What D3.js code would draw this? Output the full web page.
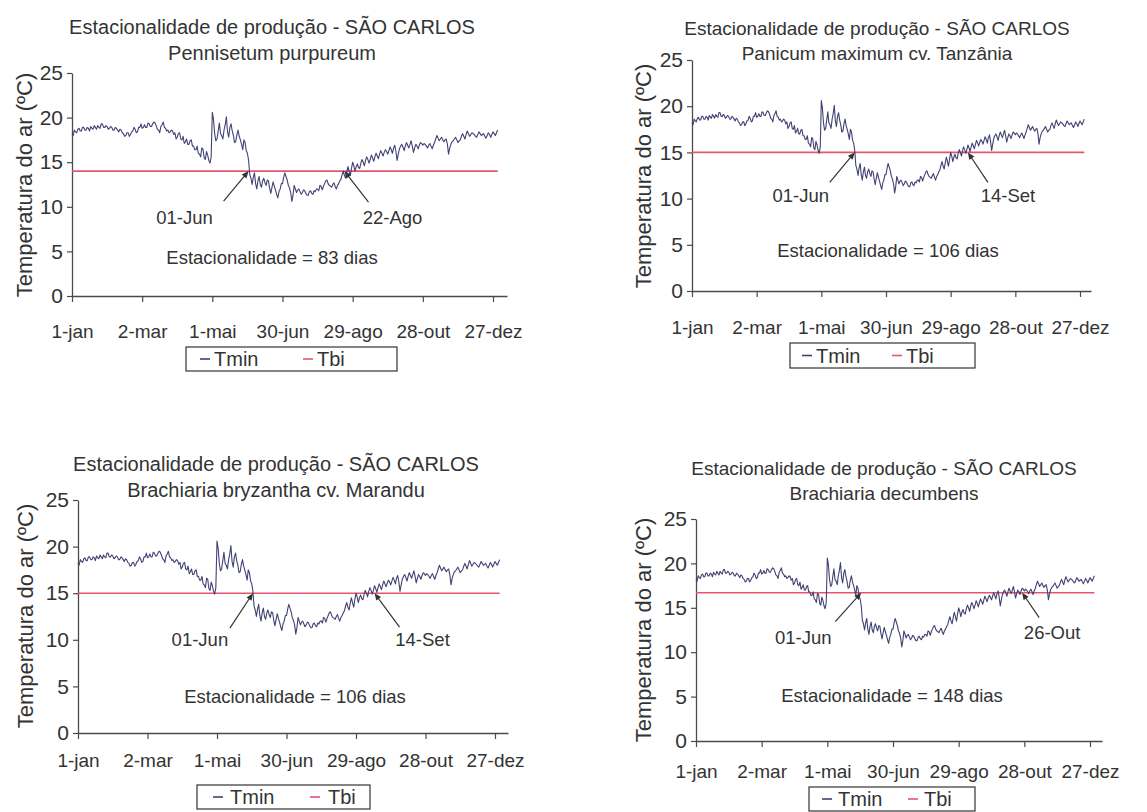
<!DOCTYPE html>
<html lang="pt-BR">
<head>
<meta charset="utf-8">
<script src="https://cdn.jsdelivr.net/npm/d3@7"></script>
<style>
  html, body { margin: 0; padding: 0; background: #ffffff; }
  svg { display: block; }
  text { font-family: "Liberation Sans", Arial, sans-serif; fill: #333333; }
</style>
</head>
<body>
<svg id="fig" width="1147" height="812"></svg>
<script>
// Temperatura mínima diária do ar (ºC) em São Carlos, dias 1 a 365
const tmin = [
  18.2, 18.0, 18.6, 18.4, 18.3, 18.7, 18.8, 18.5, 18.5, 18.9,
  18.9, 18.6, 18.6, 18.9, 18.8, 18.5, 19.0, 18.8, 18.7, 19.1,
  18.9, 18.7, 19.1, 18.9, 18.8, 19.3, 19.3, 18.9, 18.9, 19.1,
  19.0, 18.7, 18.8, 19.0, 18.9, 18.6, 18.6, 18.9, 18.8, 18.6,
  18.4, 18.7, 18.6, 18.3, 18.2, 17.9, 18.0, 18.3, 18.3, 17.9,
  18.1, 18.4, 18.5, 18.9, 18.7, 18.3, 18.4, 18.9, 18.9, 19.3,
  18.8, 18.9, 19.2, 18.9, 18.9, 19.4, 19.3, 19.0, 19.0, 19.3,
  19.5, 19.4, 19.1, 18.7, 18.6, 18.3, 19.0, 19.2, 19.5, 18.9,
  18.8, 18.5, 18.6, 18.3, 18.4, 18.6, 18.5, 18.1, 18.3, 17.6,
  17.8, 18.2, 18.3, 17.6, 17.5, 17.9, 17.1, 17.3, 17.6, 17.0,
  17.0, 17.4, 17.5, 16.8, 16.8, 16.4, 16.4, 16.8, 16.0, 15.9,
  15.6, 16.6, 16.5, 15.5, 15.3, 16.2, 15.8, 15.2, 14.9, 15.6,
  20.6, 19.8, 18.2, 17.4, 17.6, 18.5, 19.4, 18.2, 18.0, 17.6,
  18.6, 19.2, 20.1, 18.4, 17.8, 18.9, 19.3, 18.5, 18.0, 17.2,
  17.3, 18.1, 18.6, 17.9, 17.5, 17.0, 16.4, 17.5, 17.2, 16.3,
  16.0, 15.2, 13.6, 13.2, 12.5, 13.3, 13.8, 12.6, 12.0, 12.9,
  13.4, 12.5, 12.2, 12.9, 13.2, 12.7, 12.4, 13.0, 12.9, 12.1,
  11.5, 12.2, 12.8, 12.3, 11.9, 11.4, 11.0, 11.7, 12.0, 12.6,
  12.6, 13.3, 13.8, 13.4, 13.0, 12.4, 12.1, 11.6, 10.6, 11.3,
  12.4, 12.0, 11.6, 11.9, 12.0, 11.7, 11.4, 11.6, 11.9, 11.8,
  11.5, 11.3, 11.3, 11.7, 11.8, 11.5, 11.4, 11.8, 11.7, 12.0,
  12.0, 11.8, 12.4, 12.3, 11.9, 12.3, 12.6, 12.9, 13.0, 12.6,
  12.4, 12.3, 12.2, 12.5, 12.7, 12.3, 12.0, 12.4, 12.6, 12.9,
  13.1, 13.6, 14.0, 13.5, 13.2, 13.9, 14.5, 14.0, 13.5, 14.3,
  15.0, 14.6, 14.0, 14.5, 14.8, 14.4, 14.3, 14.9, 15.3, 15.0,
  14.6, 15.2, 15.6, 15.3, 14.9, 15.3, 15.8, 15.5, 15.1, 15.6,
  16.0, 15.7, 15.4, 15.9, 16.3, 16.0, 15.7, 16.1, 16.4, 16.2,
  15.9, 16.3, 16.7, 16.4, 16.0, 16.6, 16.9, 16.2, 15.2, 15.9,
  16.5, 16.8, 17.0, 16.7, 16.3, 16.8, 17.2, 16.9, 16.6, 17.0,
  17.4, 16.8, 16.1, 16.6, 17.0, 16.8, 16.5, 16.9, 17.2, 17.1,
  16.9, 17.1, 17.0, 16.8, 16.6, 16.9, 17.1, 16.8, 16.5, 16.9,
  17.2, 17.6, 18.0, 17.7, 17.4, 17.6, 17.8, 17.5, 17.3, 17.5,
  17.6, 17.0, 15.9, 16.6, 17.0, 17.3, 17.4, 17.6, 17.8, 17.5,
  17.2, 17.4, 17.5, 17.9, 18.2, 17.9, 17.6, 18.1, 18.5, 18.2,
  17.9, 18.1, 18.3, 18.2, 18.1, 17.9, 17.8, 18.1, 18.4, 18.2,
  18.0, 18.1, 18.2, 17.9, 17.7, 18.0, 18.3, 18.1, 17.8, 18.1,
  18.4, 18.2, 18.0, 18.3, 18.6
];

// Eixo X: dia do ano e rótulos
const tickDias = [1, 61, 121, 181, 241, 301, 361];
const tickRotulos = ["1-jan", "2-mar", "1-mai", "30-jun", "29-ago", "28-out", "27-dez"];
const tickTemp = [0, 5, 10, 15, 20, 25];

// Um gráfico por forrageira
const titulo = "Estacionalidade de produção - SÃO CARLOS";
const especies = ["Pennisetum purpureum", "Panicum maximum cv. Tanzânia",
                  "Brachiaria bryzantha cv. Marandu", "Brachiaria decumbens"];
const tbi = [14, 15, 15, 16.7];                 // temperatura basal inferior (ºC)
const inicioRotulo = ["01-Jun", "01-Jun", "01-Jun", "01-Jun"];
const inicioDia = [152, 152, 152, 152];
const fimRotulo = ["22-Ago", "14-Set", "14-Set", "26-Out"];
const fimDia = [234, 257, 257, 299];
const estacionalidade = [83, 106, 106, 148];    // dias

// Posição de cada gráfico na página
const quadros = [
  { x0: 72,  x361: 493,  xEnd: 507,  y0: 296, y25: 73,
    tx: 272, t1: 34,  t2: 60,  tfs: 20, ylx: 24,  yly: 185, tickOff: 23,
    ini: { lab: [-64, 46], tail: [-25, 30] }, fim: { lab: [48, 46], tail: [24, 31] },
    est: [272, 257], leg: [186, 347, 211, 24], legX: [200, 214, 303, 317] },
  { x0: 692, x361: 1080, xEnd: 1091, y0: 291, y25: 60,
    tx: 877, t1: 35,  t2: 60,  tfs: 19, ylx: 643, yly: 176, tickOff: 24,
    ini: { lab: [-54, 43], tail: [-25, 30] }, fim: { lab: [40, 43], tail: [20, 30] },
    est: [888, 250], leg: [790, 343, 185, 25], legX: [802, 816, 892, 906] },
  { x0: 78,  x361: 495,  xEnd: 508,  y0: 733, y25: 500,
    tx: 276, t1: 471, t2: 497, tfs: 20, ylx: 25,  yly: 616, tickOff: 15,
    ini: { lab: [-53, 46], tail: [-23, 35] }, fim: { lab: [48, 46], tail: [25, 34] },
    est: [295, 696], leg: [197, 785, 173, 24], legX: [213, 230, 310, 328] },
  { x0: 696, x361: 1090, xEnd: 1102, y0: 741, y25: 519,
    tx: 884, t1: 475, t2: 500, tfs: 19, ylx: 643, yly: 630, tickOff: 18,
    ini: { lab: [-58, 45], tail: [-26, 29] }, fim: { lab: [30, 40], tail: [17, 25] },
    est: [892, 695], leg: [809, 787, 166, 24], legX: [822, 838, 908, 924] }
];

const corTmin = "#414273";
const corTbi = "#e3566e";
const corEixo = "#4a4a4a";

const svg = d3.select("#fig");
const serie = tmin.map((v, i) => ({ dia: i + 1, t: v }));

quadros.forEach((q, k) => {
  const g = svg.append("g");
  const diaEnd = 1 + (q.xEnd - q.x0) * 360 / (q.x361 - q.x0);
  const x = d3.scaleLinear().domain([1, diaEnd]).range([q.x0, q.xEnd]);
  const y = d3.scaleLinear().domain([0, 25]).range([q.y0, q.y25]);

  // Títulos
  g.append("text").attr("x", q.tx).attr("y", q.t1).attr("text-anchor", "middle")
    .style("font-size", q.tfs + "px").text(titulo);
  g.append("text").attr("x", q.tx).attr("y", q.t2).attr("text-anchor", "middle")
    .style("font-size", q.tfs + "px").text(especies[k]);

  // Eixo Y
  const ay = g.append("g").attr("transform", `translate(${q.x0},0)`)
    .call(d3.axisLeft(y).tickValues(tickTemp).tickSize(5).tickPadding(4).tickSizeOuter(0));
  ay.select(".domain").attr("stroke", corEixo).attr("stroke-width", 1.3);
  ay.selectAll(".tick line").attr("stroke", corEixo).attr("stroke-width", 1.2);
  ay.selectAll(".tick text").style("font-size", "21px").attr("fill", "#333");

  // Eixo X
  const ax = g.append("g").attr("transform", `translate(0,${q.y0})`)
    .call(d3.axisBottom(x).tickValues(tickDias).tickFormat((d, i) => tickRotulos[i])
      .tickSize(6).tickPadding(q.tickOff).tickSizeOuter(0));
  ax.select(".domain").attr("stroke", corEixo).attr("stroke-width", 1.3);
  ax.selectAll(".tick line").attr("stroke", corEixo).attr("stroke-width", 1.2);
  ax.selectAll(".tick text").style("font-size", "19px").attr("fill", "#333");
  [ay, ax].forEach(a => a.attr("font-family", null));

  // Título do eixo Y
  g.append("text")
    .attr("transform", `translate(${q.ylx},${q.yly}) rotate(-90)`)
    .attr("text-anchor", "middle").attr("dominant-baseline", "central")
    .style("font-size", "22px").text("Temperatura do ar (ºC)");

  // Linha de temperatura basal inferior
  g.append("line")
    .attr("x1", x(1)).attr("x2", x(365))
    .attr("y1", y(tbi[k])).attr("y2", y(tbi[k]))
    .attr("stroke", corTbi).attr("stroke-width", 1.6);

  // Série de temperatura mínima
  g.append("path").datum(serie)
    .attr("fill", "none").attr("stroke", corTmin).attr("stroke-width", 1.1)
    .attr("stroke-linejoin", "round")
    .attr("d", d3.line().x(d => x(d.dia)).y(d => y(d.t)));

  // Setas indicando início e fim do período
  const seta = (dia, rot, cfg) => {
    const px = x(dia), py = y(tbi[k]);
    const tx = px + cfg.tail[0], ty = py + cfg.tail[1];
    const ang = Math.atan2(py - ty, px - tx);
    const L = 7, W = 3;
    g.append("line").attr("x1", tx).attr("y1", ty)
      .attr("x2", px - Math.cos(ang) * 4).attr("y2", py - Math.sin(ang) * 4)
      .attr("stroke", "#333").attr("stroke-width", 1.2);
    const bx = px - Math.cos(ang) * L, by = py - Math.sin(ang) * L;
    g.append("path")
      .attr("d", `M${px},${py}L${bx - Math.sin(ang) * W},${by + Math.cos(ang) * W}` +
                 `L${bx + Math.sin(ang) * W},${by - Math.cos(ang) * W}Z`)
      .attr("fill", "#333");
    g.append("text").attr("x", px + cfg.lab[0]).attr("y", py + cfg.lab[1])
      .attr("text-anchor", "middle").attr("dominant-baseline", "central")
      .style("font-size", "18.5px").text(rot);
  };
  seta(inicioDia[k], inicioRotulo[k], q.ini);
  seta(fimDia[k], fimRotulo[k], q.fim);

  g.append("text").attr("x", q.est[0]).attr("y", q.est[1])
    .attr("text-anchor", "middle").attr("dominant-baseline", "central")
    .style("font-size", "18.5px").text(`Estacionalidade = ${estacionalidade[k]} dias`);

  // Legenda
  const [lx, ly, lw, lh] = q.leg;
  g.append("rect").attr("x", lx).attr("y", ly).attr("width", lw).attr("height", lh)
    .attr("fill", "#fff").attr("stroke", "#333").attr("stroke-width", 1.2);
  const cy = ly + lh / 2;
  [[corTmin, "Tmin", q.legX[0], q.legX[1]], [corTbi, "Tbi", q.legX[2], q.legX[3]]]
    .forEach(([c, nome, xs, xt]) => {
      g.append("line").attr("x1", xs).attr("x2", xs + 10).attr("y1", cy).attr("y2", cy)
        .attr("stroke", c).attr("stroke-width", 1.6);
      g.append("text").attr("x", xt).attr("y", cy).attr("dominant-baseline", "central")
        .style("font-size", "20px").text(nome);
    });
});
</script>
</body>
</html>
